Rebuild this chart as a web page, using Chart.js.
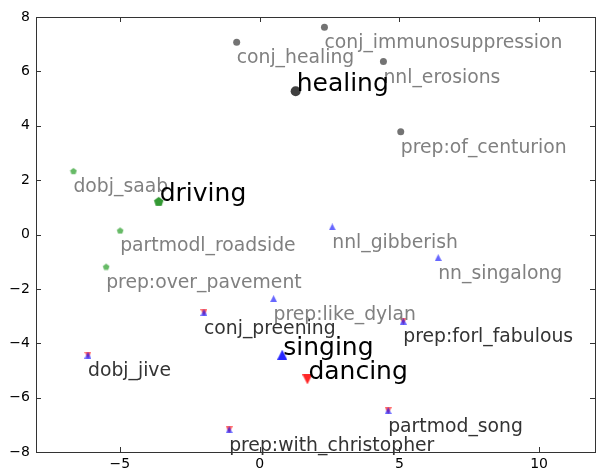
<!DOCTYPE html>
<html>
<head>
<meta charset="utf-8">
<script src="https://cdn.jsdelivr.net/npm/chart.js@4"></script>
<style>
  body { margin: 0; overflow: hidden; background: #fff; }
</style>
</head>
<body>
<canvas id="myChart" width="600" height="470"></canvas>
<script>
// context words of each target word
var healingWords = ['conj_immunosuppression', 'conj_healing', 'nnl_erosions', 'prep:of_centurion'];
var healingX = [2.32, -0.82, 4.43, 5.05];
var healingY = [7.62, 7.07, 6.36, 3.78];

var drivingWords = ['dobj_saab', 'partmodl_roadside', 'prep:over_pavement'];
var drivingX = [-6.66, -4.99, -5.49];
var drivingY = [2.34, 0.15, -1.18];

var singingWords = ['nnl_gibberish', 'nn_singalong', 'prep:like_dylan'];
var singingX = [2.6, 6.39, 0.5];
var singingY = [0.28, -0.85, -2.36];

// shared by singing and dancing
var sharedWords = ['conj_preening', 'dobj_jive', 'prep:with_christopher', 'prep:forl_fabulous', 'partmod_song'];
var sharedX = [-1.99, -6.14, -1.09, 5.14, 4.6];
var sharedY = [-2.87, -4.44, -7.18, -3.19, -6.48];

// target words
var targetWords = ['healing', 'driving', 'singing', 'dancing'];
var targetX = [1.29, -3.61, 0.81, 1.71];
var targetY = [5.27, 1.22, -4.42, -5.33];

var xTicks = [-5, 0, 5, 10];
var yTicks = [-8, -6, -4, -2, 0, 2, 4, 6, 8];

function pts(xs, ys) {
  var out = [];
  for (var i = 0; i < xs.length; i++) out.push({x: xs[i], y: ys[i]});
  return out;
}

function pentagon(size, color) {
  var c = document.createElement('canvas');
  c.width = size; c.height = size;
  var g = c.getContext('2d');
  var r = size / 2 - 0.5;
  g.beginPath();
  for (var i = 0; i < 5; i++) {
    var a = -Math.PI / 2 + i * 2 * Math.PI / 5;
    var px = size / 2 + r * Math.cos(a), py = size / 2 + r * Math.sin(a) + 0.5;
    if (i == 0) g.moveTo(px, py); else g.lineTo(px, py);
  }
  g.closePath();
  g.fillStyle = color;
  g.fill();
  return c;
}

// matplotlib style triangle: fills its whole box
function tri(size, color, up) {
  var c = document.createElement('canvas');
  c.width = size; c.height = size;
  var g = c.getContext('2d');
  g.beginPath();
  if (up) {
    g.moveTo(size / 2, 0); g.lineTo(size, size); g.lineTo(0, size);
  } else {
    g.moveTo(0, 0); g.lineTo(size, 0); g.lineTo(size / 2, size);
  }
  g.closePath();
  g.fillStyle = color;
  g.fill();
  return c;
}

var FONT = '"DejaVu Sans", "Bitstream Vera Sans", sans-serif';

var labelPlugin = {
  id: 'labels',
  beforeDatasetsDraw: function(chart) {
    var ctx = chart.ctx, a = chart.chartArea;
    var sx = chart.scales.x, sy = chart.scales.y;
    ctx.save();
    ctx.strokeStyle = '#333';
    ctx.lineWidth = 1;
    ctx.strokeRect(Math.round(a.left) + 0.5, Math.round(a.top) + 0.5, Math.round(a.right - a.left), Math.round(a.bottom - a.top));
    ctx.beginPath();
    xTicks.forEach(function(v) {
      var p = Math.round(sx.getPixelForValue(v)) + 0.5;
      ctx.moveTo(p, a.bottom); ctx.lineTo(p, a.bottom - 5);
      ctx.moveTo(p, a.top); ctx.lineTo(p, a.top + 5);
    });
    yTicks.forEach(function(v) {
      var p = Math.round(sy.getPixelForValue(v)) + 0.5;
      ctx.moveTo(a.left, p); ctx.lineTo(a.left + 5, p);
      ctx.moveTo(a.right, p); ctx.lineTo(a.right - 5, p);
    });
    ctx.stroke();
    ctx.restore();
  },
  afterDatasetsDraw: function(chart) {
    var ctx = chart.ctx;
    var sx = chart.scales.x, sy = chart.scales.y;
    ctx.save();
    ctx.textAlign = 'left';
    ctx.textBaseline = 'alphabetic';
    function put(words, xs, ys, color, size, dx, dy) {
      ctx.fillStyle = color;
      ctx.font = size + 'px ' + FONT;
      for (var i = 0; i < words.length; i++) {
        ctx.fillText(words[i], sx.getPixelForValue(xs[i]) + dx, sy.getPixelForValue(ys[i]) + dy);
      }
    }
    put(healingWords, healingX, healingY, '#808080', 18.8, 0, 21);
    put(drivingWords, drivingX, drivingY, '#808080', 18.8, 0, 21);
    put(singingWords, singingX, singingY, '#808080', 18.8, 0, 21);
    put(sharedWords, sharedX, sharedY, '#333333', 18.8, 0, 21);
    put(targetWords, targetX, targetY, '#000000', 25, 1, 0);
    ctx.restore();
  }
};

new Chart('myChart', {
  type: 'scatter',
  data: {
    datasets: [{
      data: pts(healingX, healingY),
      pointStyle: 'circle', pointRadius: 3.5,
      backgroundColor: 'rgba(0,0,0,0.55)', borderWidth: 0
    }, {
      data: pts([targetX[0]], [targetY[0]]),
      pointStyle: 'circle', pointRadius: 5,
      backgroundColor: 'rgba(0,0,0,0.75)', borderWidth: 0
    }, {
      data: pts(drivingX, drivingY),
      pointStyle: pentagon(8, 'rgba(0,140,0,0.6)'),
      borderWidth: 0
    }, {
      data: pts([targetX[1]], [targetY[1]]),
      pointStyle: pentagon(11, 'rgba(0,128,0,0.8)'),
      borderWidth: 0
    }, {
      data: pts(singingX.concat(sharedX), singingY.concat(sharedY)),
      pointStyle: tri(7, 'rgba(0,0,255,0.6)', true),
      borderWidth: 0
    }, {
      data: pts([targetX[2]], [targetY[2]]),
      pointStyle: tri(10, 'rgba(0,0,255,0.85)', true),
      borderWidth: 0
    }, {
      data: pts(sharedX, sharedY),
      pointStyle: tri(7, 'rgba(255,0,0,0.6)', false),
      borderWidth: 0
    }, {
      data: pts([targetX[3]], [targetY[3]]),
      pointStyle: tri(10, 'rgba(255,0,0,0.85)', false),
      borderWidth: 0
    }]
  },
  options: {
    responsive: false,
    animation: false,
    devicePixelRatio: 1,
    layout: {padding: {top: 17, right: 3, left: 0, bottom: 0}},
    plugins: {legend: {display: false}, tooltip: {enabled: false}},
    scales: {
      x: {
        min: -8, max: 12,
        grid: {display: false, drawTicks: false},
        border: {display: false},
        afterBuildTicks: function(s) { s.ticks = xTicks.map(function(v) { return {value: v}; }); },
        afterFit: function(s) { s.height = 18; },
        ticks: {
          padding: 4, color: '#000', maxRotation: 0,
          font: {family: FONT, size: 14},
          callback: function(v) { return String(v).replace('-', '\u2212'); }
        }
      },
      y: {
        min: -8, max: 8,
        grid: {display: false, drawTicks: false},
        border: {display: false},
        afterBuildTicks: function(s) { s.ticks = yTicks.map(function(v) { return {value: v}; }); },
        afterFit: function(s) { s.width = 36; },
        ticks: {
          padding: 6, color: '#000',
          font: {family: FONT, size: 14},
          callback: function(v) { return String(v).replace('-', '\u2212'); }
        }
      }
    }
  },
  plugins: [labelPlugin]
});
</script>
</body>
</html>
